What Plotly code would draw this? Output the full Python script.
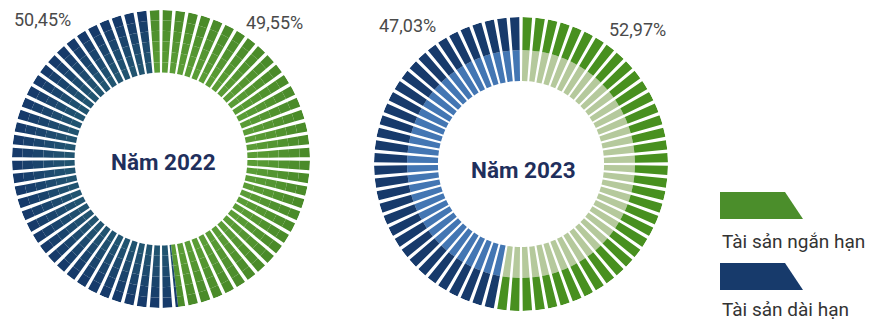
import plotly.graph_objects as go

# Cơ cấu tài sản theo năm (%)
years = ["Năm 2022", "Năm 2023"]
categories = ["Tài sản ngắn hạn", "Tài sản dài hạn"]
short_term = [49.55, 52.97]
long_term = [50.45, 47.03]

W, H = 870, 321
N_SEG = 72          # number of radial stripes per donut
GAP = 1.35          # white gap between stripes (degrees)
STEP = 360.0 / N_SEG


def hex_mix(c1, c2, t):
    a = [int(c1[i:i + 2], 16) for i in (1, 3, 5)]
    b = [int(c2[i:i + 2], 16) for i in (1, 3, 5)]
    return "#" + "".join(f"{round(x + (y - x) * t):02x}" for x, y in zip(a, b))


def fmt(v):
    return f"{v:.2f}".replace(".", ",") + "%"


# donut geometry in pixels: centre x, centre y, outer radius, hole fraction, start angle
donuts = [
    dict(cx=161, cy=159, r=149, hole=0.58, start=-5),
    dict(cx=521, cy=164, r=147, hole=0.565, start=0),
]

# colour bands (base, top, [short colour, long colour]) per donut
bands_2022 = []
nb = 6
for k in range(nb):
    t = k / (nb - 1)
    lo = 0.58 + (1 - 0.58) * k / nb
    hi = 0.58 + (1 - 0.58) * (k + 1) / nb
    bands_2022.append((lo, hi, [hex_mix("#5a9c36", "#4a8b29", t),
                                hex_mix("#215470", "#163a6a", t)]))
bands_2023 = [
    (0.565, 0.775, ["#b5c99c", "#4376b3"]),
    (0.775, 1.0, ["#48901f", "#173a6b"]),
]
bands = [bands_2022, bands_2023]

fig = go.Figure()
layout_polars = {}

for d_idx, (d, shares) in enumerate(zip(donuts, zip(short_term, long_term))):
    pid = "polar" if d_idx == 0 else f"polar{d_idx + 1}"
    # category angular intervals from the data
    intervals = []
    a = d["start"]
    for s in shares:
        intervals.append((a, a + s * 3.6))
        a += s * 3.6
    for lo_r, hi_r, cols in bands[d_idx]:
        for c_idx, (ia, ib) in enumerate(intervals):
            thetas, widths = [], []
            for i in range(N_SEG):
                sa = d["start"] + i * STEP + GAP / 2
                sb = d["start"] + (i + 1) * STEP - GAP / 2
                lo = max(sa, ia)
                hi = min(sb, ib)
                if hi - lo > 0.01:
                    thetas.append((lo + hi) / 2)
                    widths.append(hi - lo)
            fig.add_trace(go.Barpolar(
                theta=thetas, width=widths,
                r=[hi_r - lo_r] * len(thetas), base=lo_r,
                marker=dict(color=cols[c_idx], line=dict(width=0)),
                subplot=pid, showlegend=False, hoverinfo="skip",
            ))
    x0 = (d["cx"] - d["r"]) / W
    x1 = (d["cx"] + d["r"]) / W
    y0 = 1 - (d["cy"] + d["r"]) / H
    y1 = 1 - (d["cy"] - d["r"]) / H
    layout_polars[pid] = dict(
        domain=dict(x=[x0, x1], y=[y0, y1]),
        bgcolor="rgba(0,0,0,0)",
        radialaxis=dict(range=[0, 1], visible=False, showgrid=False),
        angularaxis=dict(visible=False, rotation=90, direction="clockwise",
                         showgrid=False),
        barmode="overlay",
    )

fig.update_layout(**layout_polars)

annotations = []
# centre titles
title_pos = [(163, 162), (523, 170)]
for name, (px, py) in zip(years, title_pos):
    annotations.append(dict(
        x=px / W, y=1 - py / H, xref="paper", yref="paper", text=f"<b>{name}</b>",
        showarrow=False, font=dict(family="Roboto", size=22.5, color="#1f2f5c"),
        xanchor="center", yanchor="middle"))

# percentage labels
pct_pos_short = [(274, 22), (637, 29)]
pct_pos_long = [(42, 19), (407, 25)]
for vals, positions in ((short_term, pct_pos_short), (long_term, pct_pos_long)):
    for v, (px, py) in zip(vals, positions):
        annotations.append(dict(
            x=px / W, y=1 - py / H, xref="paper", yref="paper", text=fmt(v),
            showarrow=False, font=dict(family="Roboto", size=18, color="#4a4a4a"),
            xanchor="center", yanchor="middle"))

# legend swatches and labels
legend_colors = ["#4b8e2b", "#173a6b"]
legend_tops = [192, 263]
label_y = [241, 309]
shapes = []
for cat, col, top, ly in zip(categories, legend_colors, legend_tops, label_y):
    bot = top + 27
    pts = [(720, top), (785, top), (803, bot), (720, bot)]
    path = "M " + " L ".join(f"{x / W},{1 - y / H}" for x, y in pts) + " Z"
    shapes.append(dict(type="path", path=path, xref="paper", yref="paper",
                       fillcolor=col, line=dict(width=0)))
    annotations.append(dict(
        x=720 / W, y=1 - ly / H, xref="paper", yref="paper", text=cat,
        showarrow=False, font=dict(family="Roboto", size=19, color="#333333"),
        xanchor="left", yanchor="middle"))

fig.update_layout(
    width=W, height=H, margin=dict(l=0, r=0, t=0, b=0),
    paper_bgcolor="white", plot_bgcolor="white",
    annotations=annotations, shapes=shapes, showlegend=False,
)

fig.write_html("out.html", config={"displayModeBar": False})
